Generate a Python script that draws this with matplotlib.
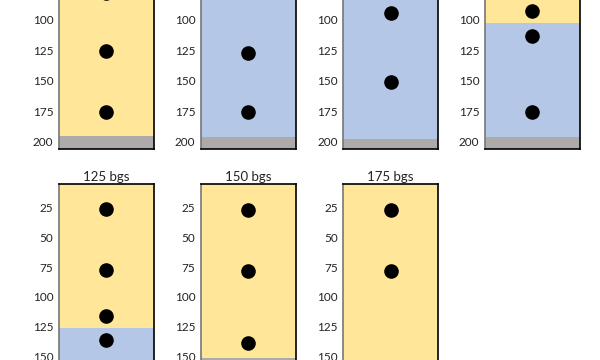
import matplotlib
matplotlib.use("Agg")
import matplotlib.pyplot as plt

# depth profiles, one panel per well (depth in ft bgs, increasing downward)
titles = ["25 bgs", "50 bgs", "75 bgs", "100 bgs", "125 bgs", "150 bgs", "175 bgs"]

# layer boundaries per panel: (top, bottom, kind)
layers = [
    [(5, 195, "sand"), (195, 206, "base")],
    [(5, 196, "clay"), (196, 206, "base")],
    [(5, 197.5, "clay"), (197.5, 206, "base")],
    [(5, 103, "sand"), (103, 196, "clay"), (196, 206, "base")],
    [(5, 126, "sand"), (126, 206, "clay")],
    [(5, 151.5, "sand"), (151.5, 206, "base")],
    [(5, 206, "sand")],
]

# sample depths per panel
samples = [
    [78, 126, 175.5],
    [127, 175.5],
    [94.5, 151],
    [93, 113, 176],
    [26, 77, 116, 136.5],
    [26.5, 78, 139],
    [26.5, 78],
]

yticks = [25, 50, 75, 100, 125, 150, 175, 200]
colors = {"sand": "#FFE699", "clay": "#B4C7E7", "base": "#AEAAAA"}

plt.rcParams['font.family'] = ['Lato', 'DejaVu Sans']

fig = plt.figure(figsize=(6, 3.6), dpi=100)

col_x = [0.098, 0.335, 0.572, 0.808]
w = 0.158
# top row sits partly above the canvas, bottom row partly below (cropped view)
row_pos = [(0.586, 0.681), (-0.175, 0.664)]

for i, title in enumerate(titles):
    r, c = divmod(i, 4)
    y0, h = row_pos[r]
    ax = fig.add_axes([col_x[c], y0, w, h])
    for top, bot, kind in layers[i]:
        ax.axhspan(top, bot, color=colors[kind], lw=0)
    ax.scatter([0.5] * len(samples[i]), samples[i], s=90, color="black", zorder=3)
    ax.set_xlim(0, 1)
    ax.set_ylim(206, 5)
    ax.set_xticks([])
    ax.set_yticks(yticks)
    ax.tick_params(axis="y", length=0, pad=4, labelsize=8.5, labelcolor="#222222")
    for s in ["top", "right", "bottom"]:
        ax.spines[s].set_color("black")
        ax.spines[s].set_linewidth(1.2)
    ax.spines["left"].set_color("#777777")
    ax.spines["left"].set_linewidth(1.2)
    ax.set_title(title, fontsize=9.5, pad=2, color="#222222")

fig.savefig("out.png", dpi=100)
